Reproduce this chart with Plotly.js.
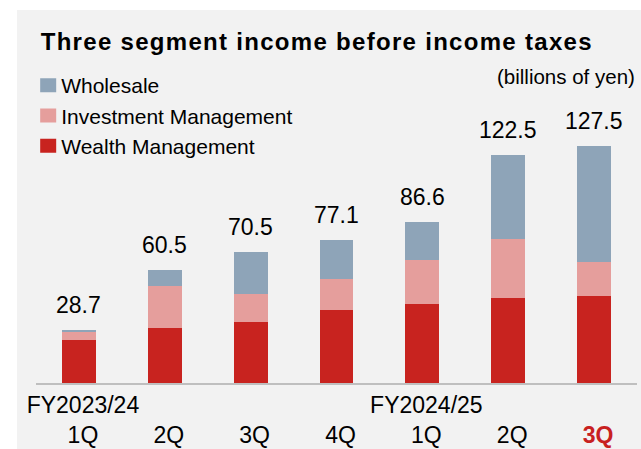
<!DOCTYPE html>
<html>
<head>
<meta charset="utf-8">
<script src="https://cdn.plot.ly/plotly-3.0.1.min.js"></script>
<style>
  html, body { margin: 0; padding: 0; background: #ffffff; width: 641px; height: 449px; overflow: hidden; }
  #chart { position: absolute; left: 17px; top: 10px; width: 624px; height: 439px; }
  .gtitle { letter-spacing: 1.3px; }
  .legend .legendtext { transform: translateX(-7px); }
</style>
</head>
<body>
<div id="chart"></div>
<script>
const categories = ["FY2023/24 1Q", "FY2023/24 2Q", "FY2023/24 3Q", "FY2023/24 4Q", "FY2024/25 1Q", "FY2024/25 2Q", "FY2024/25 3Q"];
const tickLabels = ["FY2023/24<br>1Q", " <br>2Q", " <br>3Q", " <br>4Q", "FY2024/25<br>1Q", " <br>2Q", " <br><b><span style='color:#c8211f'>3Q</span></b>"];
const wealthManagement = [23.0, 29.5, 32.8, 39.0, 42.5, 45.5, 46.8];
const investmentManagement = [4.4, 22.5, 15.1, 17.1, 23.7, 32.1, 18.3];
const wholesale = [1.3, 8.5, 22.6, 21.0, 20.4, 44.9, 62.4];
const totals = [28.7, 60.5, 70.5, 77.1, 86.6, 122.5, 127.5];
const seriesNames = ["Wealth Management", "Investment Management", "Wholesale"];

const FONT = '"Liberation Sans", Arial, Helvetica, sans-serif';
const colors = ["#c8231f", "#e59e9c", "#8ea4b8"];
const seriesValues = [wealthManagement, investmentManagement, wholesale];
const legendRanks = [3, 2, 1];

const traces = seriesValues.map((vals, i) => ({
  type: 'bar',
  name: seriesNames[i],
  x: categories,
  y: vals,
  legendgroup: 'g' + i,
  legendrank: legendRanks[i],
  marker: { color: colors[i], line: { width: 0 } },
  hoverinfo: 'skip'
}));

const annotations = categories.map((c, i) => ({
  x: c, y: totals[i], xref: 'x', yref: 'y',
  text: totals[i].toFixed(1),
  showarrow: false, yanchor: 'bottom', yshift: 10,
  font: { family: FONT, size: 23, color: '#000000' }
}));
annotations.push({
  x: 1, y: 0.919, xref: 'paper', yref: 'paper',
  xanchor: 'right', yanchor: 'middle',
  text: '(billions of yen)', showarrow: false,
  font: { family: FONT, size: 20.5, color: '#000000' }
});

const layout = {
  width: 624, height: 439,
  margin: { l: 19, r: 4, t: 40, b: 66 },
  paper_bgcolor: '#f2f2f2',
  plot_bgcolor: '#f2f2f2',
  barmode: 'stack',
  bargap: 0.605,
  showlegend: true,
  title: {
    text: '<b>Three segment income before income taxes</b>',
    font: { family: FONT, size: 24, color: '#000000' },
    x: 0.038, xanchor: 'left', xref: 'container',
    y: 0.928, yanchor: 'middle', yref: 'container'
  },
  legend: {
    orientation: 'v',
    x: -0.013, xanchor: 'left',
    y: 0.955, yanchor: 'top',
    traceorder: 'grouped',
    tracegroupgap: 0,
    bgcolor: 'rgba(0,0,0,0)',
    font: { family: FONT, size: 21, color: '#000000' }
  },
  xaxis: {
    type: 'category',
    tickvals: categories,
    ticktext: tickLabels,
    showline: true, linecolor: '#bfbfbf', linewidth: 2,
    showgrid: false, zeroline: false, ticks: '',
    ticklabelshift: 4,
    tickfont: { family: FONT, size: 23, color: '#000000' },
    fixedrange: true
  },
  yaxis: {
    range: [0, 179],
    visible: false,
    fixedrange: true
  },
  annotations: annotations
};

Plotly.newPlot('chart', traces, layout, { staticPlot: true, displayModeBar: false }).then(() => {
  document.querySelectorAll('#chart .legend .legendpoints path').forEach(p => {
    p.setAttribute('d', 'M8,7H-8V-7H8Z');
  });
});
</script>
</body>
</html>
